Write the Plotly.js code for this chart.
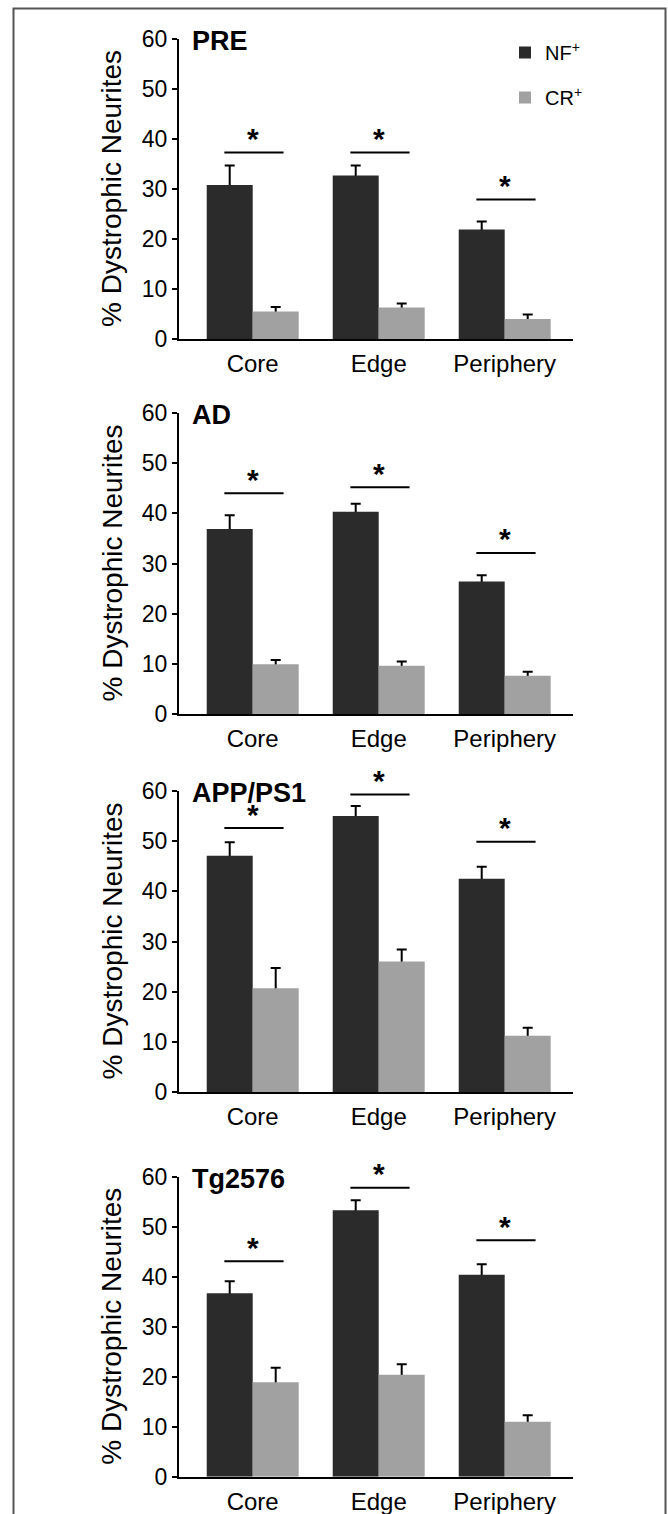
<!DOCTYPE html>
<html>
<head>
<meta charset="utf-8">
<script src="https://cdn.plot.ly/plotly-3.0.1.min.js"></script>
<style>
html,body{margin:0;padding:0;background:#fff;}
#chart{width:668px;height:1514px;}
</style>
</head>
<body>
<div id="chart"></div>
<script>
// ---- data ----
const categories = ['Core', 'Edge', 'Periphery'];
const seriesNames = ['NF<sup>+</sup>', 'CR<sup>+</sup>'];
const panelTitles = ['PRE', 'AD', 'APP/PS1', 'Tg2576'];
const yTickVals = [0, 10, 20, 30, 40, 50, 60];

const preNF = [30.8, 32.7, 21.9];
const preNFerr = [3.9, 2.0, 1.6];
const preCR = [5.5, 6.3, 4.0];
const preCRerr = [0.9, 0.8, 0.9];
const preSig = [37.3, 37.3, 27.9];

const adNF = [36.9, 40.3, 26.4];
const adNFerr = [2.7, 1.6, 1.25];
const adCR = [9.9, 9.6, 7.6];
const adCRerr = [0.86, 0.85, 0.8];
const adSig = [44.0, 45.2, 32.1];

const appNF = [47.1, 55.0, 42.5];
const appNFerr = [2.7, 2.0, 2.4];
const appCR = [20.7, 26.0, 11.2];
const appCRerr = [4.0, 2.4, 1.6];
const appSig = [52.6, 59.3, 49.9];

const tgNF = [36.7, 53.3, 40.4];
const tgNFerr = [2.4, 2.0, 2.1];
const tgCR = [18.9, 20.4, 11.0];
const tgCRerr = [2.9, 2.1, 1.3];
const tgSig = [43.1, 57.8, 47.3];

// ---- layout geometry (pixels) ----
const W = 668, H = 1514;
const px = x => x / W;
const py = y => 1 - y / H;
const FONT = 'Liberation Sans, Arial, Helvetica, sans-serif';
const DARK = '#2b2b2b', LIGHT = '#a1a1a1';

const xLeft = 179, xRight = 573;
const panelPix = [
  {y0: 339, y60: 39},
  {y0: 714, y60: 413},
  {y0: 1092, y60: 791},
  {y0: 1476.7, y60: 1176.7}
];
const panelData = [
  [preNF, preNFerr, preCR, preCRerr, preSig],
  [adNF, adNFerr, adCR, adCRerr, adSig],
  [appNF, appNFerr, appCR, appCRerr, appSig],
  [tgNF, tgNFerr, tgCR, tgCRerr, tgSig]
];

const errTraces = [];
const barTraces = [];
const layout = {
  width: W, height: H,
  margin: {l: 0, r: 0, t: 0, b: 0},
  paper_bgcolor: '#ffffff', plot_bgcolor: 'rgba(0,0,0,0)',
  barmode: 'group', bargap: 0.27, bargroupgap: 0,
  font: {family: FONT, color: '#000', size: 22},
  showlegend: true,
  legend: {
    x: px(505), y: py(33), xanchor: 'left', yanchor: 'top',
    font: {family: FONT, size: 20, color: '#000'},
    bgcolor: 'rgba(0,0,0,0)', tracegroupgap: 16,
    itemclick: false, itemdoubleclick: false
  },
  annotations: [], shapes: []
};

const errStyle = arr => ({type: 'data', array: arr, symmetric: true,
                          color: '#000', thickness: 2, width: 5});

panelData.forEach((pd, i) => {
  const n = i === 0 ? '' : String(i + 1);
  const on = String(i + 5);
  const xa = 'x' + n, ya = 'y' + n;          // base axes: error bars (drawn underneath)
  const xo = 'x' + on, yo = 'y' + on;        // overlay axes: bars (drawn on top)
  const [nf, nfErr, cr, crErr, sig] = pd;

  // error bars on hidden twin bars, underneath the visible bars
  errTraces.push({
    type: 'bar', x: categories, y: nf, xaxis: xa, yaxis: ya, showlegend: false,
    marker: {color: 'rgba(0,0,0,0)', line: {width: 0}},
    error_y: errStyle(nfErr), hoverinfo: 'skip'
  });
  errTraces.push({
    type: 'bar', x: categories, y: cr, xaxis: xa, yaxis: ya, showlegend: false,
    marker: {color: 'rgba(0,0,0,0)', line: {width: 0}},
    error_y: errStyle(crErr), hoverinfo: 'skip'
  });
  // visible bars
  barTraces.push({
    type: 'bar', x: categories, y: nf, name: seriesNames[0],
    xaxis: xo, yaxis: yo, legendgroup: 'nf', showlegend: i === 0,
    marker: {color: DARK, line: {width: 0}}, hoverinfo: 'skip'
  });
  barTraces.push({
    type: 'bar', x: categories, y: cr, name: seriesNames[1],
    xaxis: xo, yaxis: yo, legendgroup: 'cr', showlegend: i === 0,
    marker: {color: LIGHT, line: {width: 0}}, hoverinfo: 'skip'
  });

  const p = panelPix[i];
  const xCommon = {
    type: 'category', categoryorder: 'array', categoryarray: categories,
    range: [-0.585, 2.542], fixedrange: true
  };
  layout['xaxis' + n] = Object.assign({}, xCommon, {
    domain: [px(xLeft), px(xRight)], anchor: ya,
    showline: true, linecolor: '#000', linewidth: 2,
    ticks: '', showgrid: false, zeroline: false,
    tickfont: {family: FONT, size: 24, color: '#000'},
    ticklabelstandoff: 2
  });
  layout['yaxis' + n] = {
    domain: [py(p.y0), py(p.y60)], anchor: xa,
    range: [0, 60], tickvals: yTickVals,
    showline: true, linecolor: '#000', linewidth: 2,
    ticks: 'outside', ticklen: 5, tickwidth: 2, tickcolor: '#000',
    showgrid: false, zeroline: false,
    tickfont: {family: FONT, size: 23, color: '#000'},
    ticklabelstandoff: 0, fixedrange: true
  };
  layout['xaxis' + on] = Object.assign({}, xCommon, {
    overlaying: xa, anchor: yo, visible: false, showgrid: false, zeroline: false
  });
  layout['yaxis' + on] = {
    overlaying: ya, anchor: xo, range: [0, 60], visible: false,
    showgrid: false, zeroline: false, fixedrange: true
  };

  // panel title
  layout.annotations.push({
    xref: 'paper', yref: 'paper', x: px(190), y: py(p.y60 + 2),
    xanchor: 'left', yanchor: 'middle', showarrow: false,
    text: '<b>' + panelTitles[i] + '</b>',
    font: {family: FONT, size: 27, color: '#000'}
  });
  // y axis title
  layout.annotations.push({
    xref: 'paper', yref: 'paper', x: px(112), y: py((p.y0 + p.y60) / 2),
    xanchor: 'center', yanchor: 'middle', showarrow: false, textangle: -90,
    text: '% Dystrophic Neurites',
    font: {family: FONT, size: 28, color: '#000'}
  });
  // significance bars and stars
  categories.forEach((c, k) => {
    layout.shapes.push({
      type: 'line', xref: xa, yref: ya,
      x0: k - 0.225, x1: k + 0.245, y0: sig[k], y1: sig[k],
      line: {color: '#000', width: 2}
    });
    layout.annotations.push({
      xref: xa, yref: ya, x: k, y: sig[k],
      xanchor: 'center', yanchor: 'middle', yshift: 14, showarrow: false,
      text: '<b>*</b>', font: {family: FONT, size: 30, color: '#000'}
    });
  });
});

// outer frame (left, top, right)
layout.shapes.push({
  type: 'path', xref: 'paper', yref: 'paper',
  path: `M ${px(13.5)} ${py(1514)} L ${px(13.5)} ${py(8.5)} L ${px(665.5)} ${py(8.5)} L ${px(665.5)} ${py(1514)}`,
  line: {color: '#555', width: 2}
});

Plotly.newPlot('chart', errTraces.concat(barTraces), layout,
               {displayModeBar: false, staticPlot: true});
</script>
</body>
</html>
